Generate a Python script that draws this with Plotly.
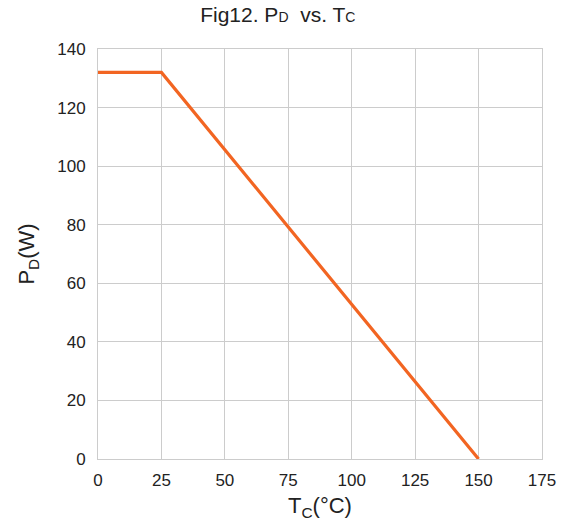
import plotly.graph_objects as go

tc = [0, 25, 150]
pd_w = [132, 132, 0]
x_ticks = [0, 25, 50, 75, 100, 125, 150, 175]
y_ticks = [0, 20, 40, 60, 80, 100, 120, 140]

fig = go.Figure()
fig.add_trace(go.Scatter(x=tc, y=pd_w, mode="lines",
                         line=dict(color="#F26522", width=3.2), showlegend=False))

font = "Liberation Sans, Arial, sans-serif"
fig.update_layout(
    width=574, height=526,
    margin=dict(l=98, r=32, t=49, b=65),
    paper_bgcolor="white", plot_bgcolor="white",
    font=dict(family=font, size=17, color="#222222"),
    title=dict(text="Fig12. P<span style='font-size:14px'>D</span>  vs. T<span style='font-size:14px'>C</span>",
               x=0.484, xanchor="center", y=0.972, yanchor="middle",
               font=dict(size=21, family=font, color="#222222")),
    xaxis=dict(range=[0, 175], tickvals=x_ticks, showgrid=True, gridcolor="#cccccc", gridwidth=1,
               showline=True, linecolor="#cccccc", linewidth=1, mirror=True, zeroline=False,
               ticks="", ticklabelstandoff=6,
               title=dict(text="T<sub>C</sub>(°C)", font=dict(size=22), standoff=8)),
    yaxis=dict(range=[0, 140], tickvals=y_ticks, showgrid=True, gridcolor="#cccccc", gridwidth=1,
               showline=True, linecolor="#cccccc", linewidth=1, mirror=True, zeroline=False,
               ticks="", ticklabelstandoff=8,
               title=dict(text="P<sub>D</sub>(W)", font=dict(size=22), standoff=16)),
)
fig.write_html("out.html")
